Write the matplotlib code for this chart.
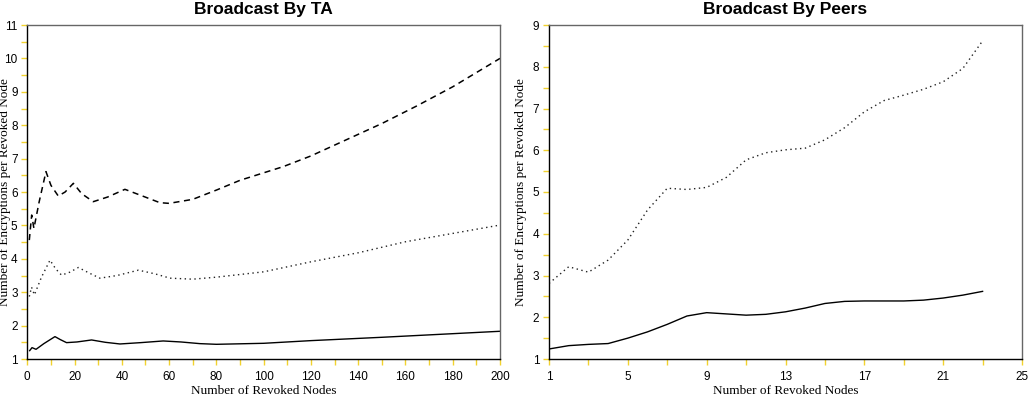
import matplotlib
matplotlib.use("Agg")
import matplotlib.pyplot as plt
from matplotlib.ticker import MultipleLocator, FixedLocator

plt.rcParams['font.family'] = ['Liberation Sans', 'DejaVu Sans']

# Broadcast By TA
ta_x_solid = [1, 2, 3.7, 7, 11.7, 14, 16.6, 21, 27.2, 33, 39.2, 48, 57.5, 65, 73, 80, 100, 120, 150, 200]
ta_solid = [1.25, 1.34, 1.29, 1.46, 1.67, 1.58, 1.49, 1.51, 1.57, 1.5, 1.45, 1.49, 1.54, 1.51, 1.46, 1.44, 1.47, 1.55, 1.65, 1.83]

ta_x_dotted = [0.85, 1.8, 3, 6, 9.6, 12, 14.5, 18, 21.6, 26, 30.7, 38, 47, 54, 60.4, 70, 80, 100, 120, 140, 160, 180, 200]
ta_dotted = [2.87, 3.15, 2.92, 3.45, 3.96, 3.7, 3.51, 3.6, 3.74, 3.58, 3.42, 3.5, 3.66, 3.55, 3.42, 3.39, 3.45, 3.61, 3.91, 4.18, 4.51, 4.76, 5.01]

ta_x_dashed = [0.85, 1.85, 2.8, 5, 7.9, 10, 13.1, 16, 19.5, 23, 27.9, 34, 41.3, 48, 56.1, 60, 70, 80.1, 90, 108.3, 120, 136.4, 150, 164.6, 180, 200]
ta_dashed = [4.56, 5.31, 4.91, 5.7, 6.61, 6.2, 5.88, 6.0, 6.26, 5.95, 5.71, 5.85, 6.08, 5.9, 5.68, 5.66, 5.78, 6.06, 6.35, 6.76, 7.08, 7.61, 8.05, 8.57, 9.15, 10.0]

# Broadcast By Peers
peers_x = list(range(1, 24))
peers_solid = [1.24, 1.32, 1.35, 1.37, 1.50, 1.65, 1.83, 2.03, 2.11, 2.08, 2.05, 2.07, 2.13,
               2.22, 2.33, 2.38, 2.39, 2.39, 2.39, 2.41, 2.46, 2.53, 2.62]
peers_dotted = [2.81, 3.21, 3.08, 3.37, 3.85, 4.57, 5.09, 5.06, 5.11, 5.35, 5.77, 5.94, 6.01,
                6.05, 6.25, 6.54, 6.92, 7.19, 7.32, 7.46, 7.64, 7.96, 8.62]

ylabel = "Number of Encryptions per Revoked Node"
xlabel = "Number of Revoked Nodes"
serif = ['Liberation Serif', 'DejaVu Serif']

fig = plt.figure(figsize=(10.34, 4.0), dpi=100)
ax1 = fig.add_axes([27.3 / 1034, 41 / 400, 472.7 / 1034, 334 / 400])
ax2 = fig.add_axes([549 / 1034, 41 / 400, 473 / 1034, 334 / 400])

lw = 1.0
dots = (0, (1, 2.5))
ax1.plot(ta_x_solid, ta_solid, color='black', lw=lw)
ax1.plot(ta_x_dotted, ta_dotted, color='#222222', lw=lw, linestyle=dots)
ax1.plot(ta_x_dashed, ta_dashed, color='black', lw=lw * 1.1, linestyle=(0, (4, 3)))
ax1.set_xlim(0, 200)
ax1.set_ylim(1, 11)
ax1.xaxis.set_major_locator(MultipleLocator(20))
ax1.xaxis.set_minor_locator(MultipleLocator(10))
ax1.yaxis.set_major_locator(MultipleLocator(1))
ax1.yaxis.set_minor_locator(MultipleLocator(0.5))
ax1.set_title("Broadcast By TA", fontsize=12.5, fontweight='bold', pad=8)

ax2.plot(peers_x, peers_solid, color='black', lw=lw)
ax2.plot(peers_x, peers_dotted, color='#222222', lw=lw, linestyle=dots)
ax2.set_xlim(1, 25)
ax2.set_ylim(1, 9)
ax2.xaxis.set_major_locator(FixedLocator([1, 5, 9, 13, 17, 21, 25]))
ax2.xaxis.set_minor_locator(FixedLocator([3, 7, 11, 15, 19, 23]))
ax2.yaxis.set_major_locator(MultipleLocator(1))
ax2.yaxis.set_minor_locator(MultipleLocator(0.5))
ax2.set_title("Broadcast By Peers", fontsize=12.5, fontweight='bold', pad=8)

for ax in (ax1, ax2):
    ax.tick_params(which='both', direction='out', length=4, width=1, color='#f2d22e')
    ax.tick_params(axis='x', which='major', labelsize=8.5, pad=5)
    ax.tick_params(axis='y', which='major', labelsize=8.5, pad=3)
    ax.spines['left'].set_color('black')
    ax.spines['bottom'].set_color('black')
    ax.spines['top'].set_color('#666666')
    ax.spines['right'].set_color('#666666')
    for s in ax.spines.values():
        s.set_linewidth(1.0)
    ax.set_xlabel(xlabel, family=serif, fontsize=9.5, labelpad=1)
    ax.set_ylabel(ylabel, family=serif, fontsize=9.5)

ax1.yaxis.set_label_coords(-0.034, 0.5)
ax2.yaxis.set_label_coords(-0.047, 0.5)

fig.savefig("out.png", dpi=100)
